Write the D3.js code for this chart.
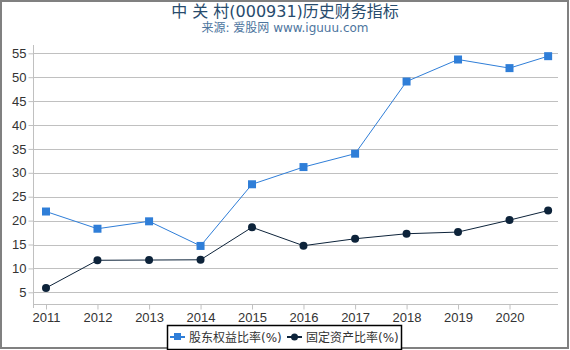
<!DOCTYPE html>
<html>
<head>
<meta charset="utf-8">
<script src="https://cdn.jsdelivr.net/npm/d3@7"></script>
<style>
  body { margin: 0; background: #fff; }
  svg { font-family: "DejaVu Sans", "Noto Sans CJK SC", sans-serif; }
  .axis text { fill: #333; font-size: 13px; }
</style>
</head>
<body>
<div id="chart"></div>
<script>
// data
const dates = ['2011-01-01', '2012-01-01', '2013-01-01', '2014-01-01', '2015-01-01', '2016-01-01',
    '2017-01-01', '2018-01-01', '2019-01-01', '2020-01-01', '2020-10-01']
const equityRatio = [21.9, 18.3, 19.85, 14.7, 27.6, 31.2, 34.0, 49.1, 53.7, 51.9, 54.4]
const fixedAssetRatio = [5.9, 11.7, 11.75, 11.8, 18.6, 14.75, 16.2, 17.25, 17.6, 20.1, 22.1]
const xTickYears = ['2011', '2012', '2013', '2014', '2015', '2016', '2017', '2018', '2019', '2020']
const yTicks = [5, 10, 15, 20, 25, 30, 35, 40, 45, 50, 55]
const seriesNames = ['股东权益比率(%)', '固定资产比率(%)']
const title = '中 关 村(000931)历史财务指标'
const subtitle = '来源: 爱股网 www.iguuu.com'

const width = 570, height = 350
const plot = {left: 33, right: 558, top: 45, bottom: 304}
const colors = ['#2f7ed8', '#0d233a']

const parseDate = d3.timeParse('%Y-%m-%d')
const dateValues = dates.map(parseDate)

const svg = d3.select('#chart').append('svg')
    .attr('width', width)
    .attr('height', height)

// frame
svg.append('rect')
    .attr('x', 1).attr('y', 1)
    .attr('width', width - 3).attr('height', height - 3)
    .attr('fill', '#fff')
    .attr('stroke', '#808080')
    .attr('stroke-width', 2)

svg.append('text')
    .attr('x', width / 2).attr('y', 17)
    .attr('text-anchor', 'middle')
    .attr('fill', '#274b6d')
    .attr('font-size', 16)
    .text(title)
svg.append('text')
    .attr('x', width / 2).attr('y', 32)
    .attr('text-anchor', 'middle')
    .attr('fill', '#4d759e')
    .attr('font-size', 12)
    .text(subtitle)

let xScale = d3.scaleTime()
    .domain([parseDate('2011-01-01'), parseDate('2020-01-01')])
    .range([46, 509.5])
let yScale = d3.scaleLinear()
    .domain([5, 55])
    .range([292.3, 53.3])

// grid lines
svg.append('g')
    .selectAll('line')
    .data(yTicks)
    .join('line')
    .attr('x1', plot.left + 1).attr('x2', plot.right)
    .attr('y1', d => Math.round(yScale(d)) + 0.5)
    .attr('y2', d => Math.round(yScale(d)) + 0.5)
    .attr('stroke', '#c0c0c0')

const yAxis = d3.axisLeft(yScale)
    .tickValues(yTicks)
    .tickSize(5)
    .tickPadding(2)
svg.append('g')
    .attr('class', 'axis')
    .attr('transform', `translate(${plot.left + 0.5},0)`)
    .call(yAxis)
    .call(g => g.select('.domain').remove())
    .call(g => g.selectAll('.tick line').attr('stroke', '#c0c0c0'))
svg.append('line')
    .attr('x1', plot.left + 0.5).attr('x2', plot.left + 0.5)
    .attr('y1', plot.top).attr('y2', plot.bottom + 4)
    .attr('stroke', '#c0c0c0')

const xAxis = d3.axisBottom(xScale)
    .tickValues(xTickYears.map(y => parseDate(y + '-01-01')))
    .tickFormat(d3.timeFormat('%Y'))
    .tickSize(5)
    .tickPadding(3)
svg.append('g')
    .attr('class', 'axis')
    .attr('transform', `translate(0,${plot.bottom + 0.5})`)
    .call(xAxis)
    .call(g => g.select('.domain').remove())
    .call(g => g.selectAll('.tick line').attr('stroke', '#c0c0c0'))
svg.append('line')
    .attr('x1', plot.left).attr('x2', plot.right)
    .attr('y1', plot.bottom + 0.5).attr('y2', plot.bottom + 0.5)
    .attr('stroke', '#c0c0c0')

const series = [equityRatio, fixedAssetRatio]
const line = d3.line()
    .x((d, i) => xScale(dateValues[i]))
    .y(d => yScale(d))

series.forEach((values, k) => {
    svg.append('path')
        .datum(values)
        .attr('fill', 'none')
        .attr('stroke', colors[k])
        .attr('stroke-width', 1)
        .attr('d', line)
    if (k === 0) {
        svg.append('g').selectAll('rect')
            .data(values)
            .join('rect')
            .attr('x', (d, i) => xScale(dateValues[i]) - 4)
            .attr('y', d => yScale(d) - 4)
            .attr('width', 8).attr('height', 8)
            .attr('fill', colors[k])
    } else {
        svg.append('g').selectAll('circle')
            .data(values)
            .join('circle')
            .attr('cx', (d, i) => xScale(dateValues[i]))
            .attr('cy', d => yScale(d))
            .attr('r', 4)
            .attr('fill', colors[k])
    }
})

// legend
const legend = svg.append('g')
legend.append('rect')
    .attr('x', 167.5).attr('y', 325.5)
    .attr('width', 234).attr('height', 24)
    .attr('fill', '#fff')
    .attr('stroke', '#000')
    .attr('stroke-width', 1.5)
const legendX = [170, 287]
seriesNames.forEach((name, k) => {
    const g = legend.append('g').attr('transform', `translate(${legendX[k]},337)`)
    g.append('line')
        .attr('x1', 0).attr('x2', 15)
        .attr('stroke', colors[k]).attr('stroke-width', 2)
    if (k === 0) {
        g.append('rect').attr('x', 4).attr('y', -4).attr('width', 7).attr('height', 7).attr('fill', colors[k])
    } else {
        g.append('circle').attr('cx', 7.5).attr('r', 3.5).attr('fill', colors[k])
    }
    g.append('text')
        .attr('x', 19).attr('y', 4.5)
        .attr('font-size', 12)
        .attr('fill', '#333')
        .text(name)
})
</script>
</body>
</html>
